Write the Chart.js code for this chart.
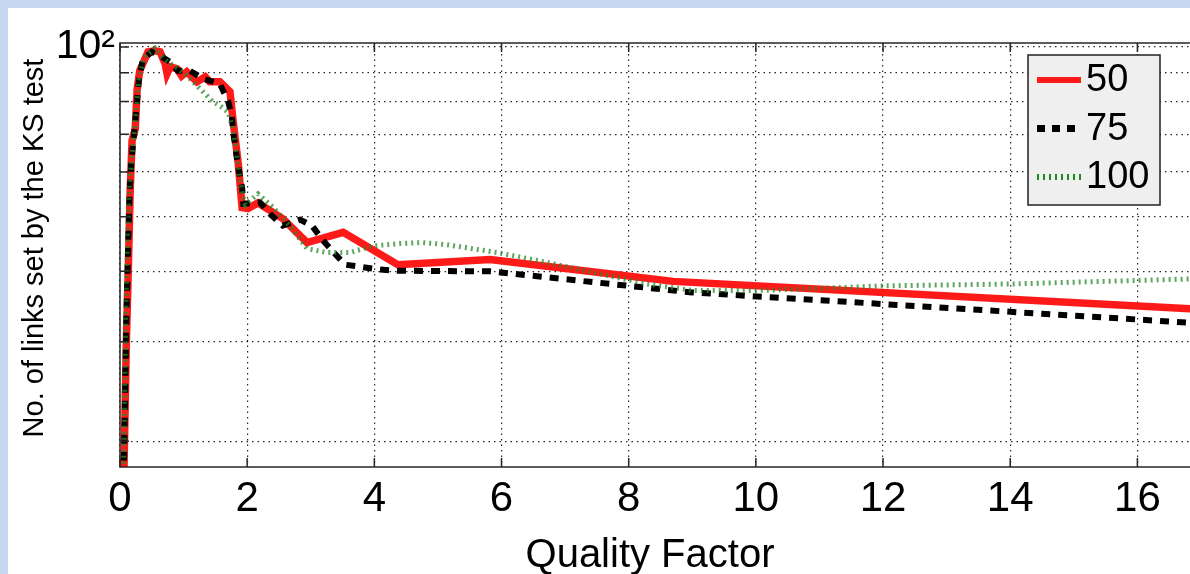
<!DOCTYPE html>
<html>
<head>
<meta charset="utf-8">
<script src="https://cdn.jsdelivr.net/npm/chart.js@4.4.0/dist/chart.umd.min.js"></script>
<style>
  html, body { margin: 0; padding: 0; overflow: hidden; width: 1190px; height: 574px; background: #c7d6ef; }
  #box { position: absolute; left: 8px; top: 8px; width: 1300px; height: 566px; background: #fff; }
</style>
</head>
<body>
<div id="box"><canvas id="ks"></canvas></div>
<script>
// quality factor (x) and number of links (y) per window size
var q50 = [0.05, 0.10, 0.13, 0.16, 0.19, 0.24, 0.27, 0.31, 0.44, 0.55, 0.63, 0.71, 0.74, 0.79, 0.90, 0.97, 1.05, 1.21, 1.34, 1.41, 1.57, 1.73, 1.78, 1.86, 1.92, 2.01, 2.17, 2.56, 2.94, 3.51, 4.37, 5.82, 8.70, 16.90];
var n50 = [15, 30, 40, 55.6, 68.2, 71.6, 84.3, 90.7, 98.0, 98.4, 98.0, 93.3, 89.6, 92.2, 91.4, 88.8, 90.3, 86.7, 88.5, 86.7, 86.7, 83.3, 73.7, 62.1, 51.9, 51.7, 52.9, 49.6, 45.0, 46.9, 41.1, 42.0, 38.4, 34.3];

var q75 = [0.05, 0.10, 0.13, 0.15, 0.18, 0.21, 0.25, 0.30, 0.36, 0.50, 0.66, 0.79, 0.91, 1.10, 1.31, 1.57, 1.70, 1.76, 1.78, 1.86, 1.92, 1.94, 2.20, 2.39, 2.56, 2.83, 3.02, 3.19, 3.38, 3.54, 3.82, 4.09, 4.36, 5.82, 9.00, 16.90];
var n75 = [15, 33, 45, 55, 63, 68, 76, 88, 95, 98.0, 96.0, 94.0, 90.7, 90.7, 87.8, 86.0, 80.2, 75.2, 70.7, 61.1, 56.3, 52.7, 53.0, 50.2, 48.2, 49.4, 48.2, 45.4, 43.0, 41.1, 40.7, 40.3, 40.1, 40.0, 36.7, 32.4];

var q100 = [0.05, 0.09, 0.12, 0.15, 0.20, 0.25, 0.30, 0.38, 0.55, 0.70, 0.85, 1.00, 1.13, 1.29, 1.45, 1.60, 1.70, 1.78, 1.86, 1.92, 1.97, 2.17, 2.41, 2.67, 2.94, 3.25, 3.62, 3.98, 4.40, 4.75, 5.14, 5.93, 6.71, 7.50, 8.29, 9.00, 10.00, 10.69, 12.00, 14.04, 16.90];
var n100 = [15, 33, 47, 57, 66, 76, 88, 96, 99.5, 95, 92.5, 90, 87.2, 83.6, 80.2, 78.2, 76.5, 71.5, 61.5, 55, 52.5, 54.9, 51.9, 48.2, 43.9, 43.2, 43.2, 44.4, 44.8, 45.0, 44.6, 43.2, 41.5, 39.7, 38.0, 37.0, 37.0, 37.2, 37.7, 38.0, 38.8];

var seriesNames = ['50', '75', '100'];
var xTicks = [0, 2, 4, 6, 8, 10, 12, 14, 16, 18];
var yGrid = [20, 30, 40, 50, 60, 70, 80, 90, 100];
var xTitle = 'Quality Factor';
var yTitle = 'No. of links set by the KS test';

function toPoints(xs, ys) {
  var pts = [];
  for (var i = 0; i < xs.length; i++) pts.push({ x: xs[i], y: ys[i] });
  return pts;
}

// line styles: solid red, dashed black, dotted green
var lineColor = ['#ff1a1a', '#000000', 'rgba(40,135,40,0.75)'];
var lineWidth = [7.5, 6, 5];
var lineDash = [[], [9, 8], [2, 4]];
var legendColor = ['#ff1a1a', '#000000', '#1f8a1f'];
var legendWidth = [6, 7, 6];
var legendDash = [[], [8, 7], [2, 4]];
var FONT = '"Liberation Sans", Arial, sans-serif';

// frame, inside ticks, axis titles and legend like the matlab figure
var boxPlugin = {
  id: 'matlabBox',
  afterDraw: function (chart) {
    var a = chart.chartArea, ctx = chart.ctx;
    var xs = chart.scales.x, ys = chart.scales.y;
    ctx.save();
    ctx.setLineDash([]);
    ctx.strokeStyle = '#262626';
    ctx.lineWidth = 1.5;
    ctx.strokeRect(a.left, a.top, a.right - a.left, a.bottom - a.top);
    ctx.beginPath();
    xTicks.forEach(function (v) {
      var px = xs.getPixelForValue(v);
      ctx.moveTo(px, a.bottom); ctx.lineTo(px, a.bottom - 9);
      ctx.moveTo(px, a.top); ctx.lineTo(px, a.top + 9);
    });
    yGrid.forEach(function (v) {
      var py = ys.getPixelForValue(v);
      ctx.moveTo(a.left, py); ctx.lineTo(a.left + 9, py);
    });
    ctx.stroke();

    // axis titles
    ctx.fillStyle = '#000';
    ctx.textAlign = 'center';
    ctx.textBaseline = 'alphabetic';
    ctx.font = '40px ' + FONT;
    ctx.fillText(xTitle, a.left + 530, 559);
    ctx.save();
    ctx.translate(27, 240);
    ctx.rotate(-Math.PI / 2);
    ctx.textBaseline = 'middle';
    ctx.font = '29px ' + FONT;
    ctx.fillText(yTitle, 0, 0);
    ctx.restore();

    // legend box
    var bx = a.left + 908, by = a.top + 12, bw = 132, bh = 150;
    ctx.fillStyle = '#efefef';
    ctx.fillRect(bx, by, bw, bh);
    ctx.strokeStyle = '#222';
    ctx.lineWidth = 1.5;
    ctx.strokeRect(bx, by, bw, bh);
    ctx.font = '38px ' + FONT;
    ctx.textBaseline = 'middle';
    ctx.textAlign = 'left';
    for (var i = 0; i < seriesNames.length; i++) {
      var ry = by + 25 + i * 48.5;
      ctx.beginPath();
      ctx.strokeStyle = legendColor[i];
      ctx.lineWidth = legendWidth[i];
      ctx.setLineDash(legendDash[i]);
      ctx.moveTo(bx + 9, ry);
      ctx.lineTo(bx + 53, ry);
      ctx.stroke();
      ctx.setLineDash([]);
      ctx.fillStyle = '#000';
      ctx.fillText(seriesNames[i], bx + 58, ry + 1);
    }
    ctx.restore();
  }
};

var datasets = [];
var pts = [toPoints(q50, n50), toPoints(q75, n75), toPoints(q100, n100)];
for (var k = 0; k < 3; k++) {
  datasets.push({
    label: seriesNames[k],
    data: pts[k],
    borderColor: lineColor[k],
    borderWidth: lineWidth[k],
    borderDash: lineDash[k],
    borderCapStyle: 'butt',
    pointRadius: 0,
    tension: 0,
    fill: false,
    order: 3 - k
  });
}

var myChart = new Chart(document.getElementById('ks'), {
  type: 'line',
  data: { datasets: datasets },
  plugins: [boxPlugin],
  options: {
    responsive: true,
    maintainAspectRatio: false,
    animation: false,
    layout: { padding: { top: 35, right: 18, left: 0, bottom: 0 } },
    plugins: {
      legend: { display: false },
      tooltip: { enabled: false }
    },
    scales: {
      x: {
        type: 'linear',
        min: 0,
        max: 18.4,
        afterFit: function (axis) { axis.height = 107; },
        afterBuildTicks: function (axis) {
          axis.ticks = xTicks.map(function (v) { return { value: v }; });
        },
        ticks: {
          autoSkip: false,
          maxRotation: 0,
          padding: 7,
          color: '#000',
          font: { family: FONT, size: 42 }
        },
        grid: { color: 'rgba(0,0,0,0.85)', lineWidth: 1.2, drawTicks: false },
        border: { display: false, dash: [1.5, 4] }
      },
      y: {
        type: 'logarithmic',
        min: 18,
        max: 101.6,
        afterFit: function (axis) { axis.width = 112; },
        afterBuildTicks: function (axis) {
          axis.ticks = yGrid.map(function (v) { return { value: v }; });
        },
        ticks: {
          autoSkip: false,
          padding: 5,
          color: '#000',
          font: { family: FONT, size: 41 },
          callback: function (v) { return v === 100 ? '10\u00B2' : ''; }
        },
        grid: { color: 'rgba(0,0,0,0.85)', lineWidth: 1.2, drawTicks: false },
        border: { display: false, dash: [1.5, 4] }
      }
    }
  }
});
</script>
</body>
</html>
